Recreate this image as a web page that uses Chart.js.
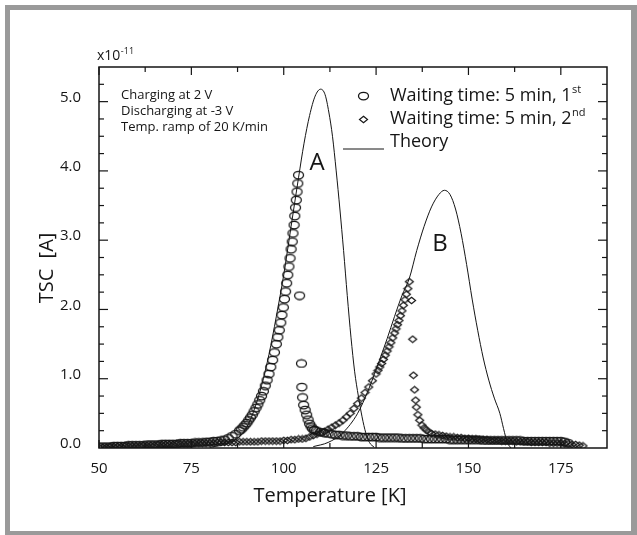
<!DOCTYPE html>
<html>
<head>
<meta charset="utf-8">
<title>TSC</title>
<script src="https://cdn.jsdelivr.net/npm/chart.js@4.4.0/dist/chart.umd.min.js"></script>
<style>
  html, body { margin: 0; padding: 0; background: #fff; }
  #wrap { width: 637px; height: 535px; }
</style>
</head>
<body>
<div id="wrap"><canvas id="tsc" width="637" height="535"></canvas></div>
<script>
// --- data (temperature in K, current in units of 1e-11 A) -------------------

const xTickValues = [50, 75, 100, 125, 150, 175];
const yTickValues = [0, 1, 2, 3, 4, 5];

// waiting time 5 min, 1st run (circles)
const firstTemp = [
  50, 51, 52, 53, 54, 55, 56, 57, 58, 59,
  60, 61, 62, 63, 64, 65, 66, 67, 68, 69,
  70, 71, 72, 73, 74, 75, 76, 77, 78, 79,
  80, 81, 82, 83, 84, 85, 86, 87, 88, 88.5,
  89, 89.5, 90, 90.5, 91, 91.5, 92, 92.5, 93, 93.5,
  94, 94.5, 95, 95.5, 96, 96.5, 97, 97.5, 98, 98.4,
  98.8, 99.2, 99.5, 99.9, 100.2, 100.5, 100.8, 101.1, 101.4, 101.7,
  102, 102.3, 102.5, 102.8, 103, 103.2, 103.4, 103.6, 103.8, 104,
  104.3, 104.8, 104.9, 105.1, 105.4, 105.8, 106.2, 106.6, 107, 107.4,
  107.8, 108.3, 108.8, 110, 111, 112, 113, 114, 115, 116,
  117, 118, 119, 120, 121, 122, 123, 124, 125, 126,
  127, 128, 129, 130, 131, 132, 133, 134, 135, 136,
  137, 138, 139, 140, 141, 142, 143, 144, 145, 146,
  147, 148, 149, 150, 151, 152, 153, 154, 155, 156,
  157, 158, 159, 160, 161, 162, 163, 164, 165, 166,
  167, 168, 169, 170, 171, 172, 173, 174, 175, 176,
  177
];
const firstTsc = [
  0.02, 0.02, 0.02, 0.02, 0.03, 0.03, 0.03, 0.03, 0.04, 0.04,
  0.04, 0.04, 0.04, 0.05, 0.05, 0.05, 0.05, 0.06, 0.06, 0.06,
  0.06, 0.06, 0.07, 0.07, 0.07, 0.07, 0.08, 0.08, 0.08, 0.09,
  0.09, 0.10, 0.10, 0.11, 0.12, 0.14, 0.17, 0.20, 0.25, 0.27,
  0.30, 0.33, 0.36, 0.40, 0.44, 0.48, 0.53, 0.58, 0.63, 0.69,
  0.75, 0.82, 0.90, 0.98, 1.07, 1.17, 1.27, 1.38, 1.50, 1.60,
  1.70, 1.81, 1.92, 2.03, 2.15, 2.26, 2.38, 2.50, 2.62, 2.74,
  2.87, 2.98, 3.10, 3.22, 3.35, 3.47, 3.58, 3.70, 3.82, 3.94,
  2.20, 1.22, 0.88, 0.73, 0.62, 0.55, 0.48, 0.41, 0.35, 0.31,
  0.28, 0.26, 0.25, 0.23, 0.22, 0.21, 0.20, 0.19, 0.19, 0.18,
  0.18, 0.17, 0.17, 0.17, 0.16, 0.16, 0.16, 0.16, 0.16, 0.15,
  0.15, 0.15, 0.15, 0.15, 0.15, 0.14, 0.14, 0.14, 0.14, 0.14,
  0.14, 0.13, 0.13, 0.13, 0.13, 0.13, 0.13, 0.13, 0.12, 0.12,
  0.12, 0.12, 0.12, 0.12, 0.12, 0.12, 0.12, 0.11, 0.11, 0.11,
  0.11, 0.11, 0.11, 0.11, 0.11, 0.11, 0.11, 0.11, 0.10, 0.10,
  0.10, 0.10, 0.10, 0.10, 0.10, 0.10, 0.10, 0.10, 0.10, 0.09,
  0.07
];

// waiting time 5 min, 2nd run (diamonds)
const secondTemp = [
  50, 51, 52, 53, 54, 55, 56, 57, 58, 59,
  60, 61, 62, 63, 64, 65, 66, 67, 68, 69,
  70, 71, 72, 73, 74, 75, 76, 77, 78, 79,
  80, 81, 82, 83, 84, 85, 86, 87, 88, 89,
  90, 91, 92, 93, 94, 95, 96, 97, 98, 99,
  100, 101, 102, 103, 104, 105, 106, 107, 108, 109,
  110, 111, 112, 113, 114, 115, 116, 117, 118, 119,
  120, 121, 122, 123, 124, 125, 125.5, 126, 126.5, 127,
  127.5, 128, 128.5, 129, 129.5, 130, 130.4, 130.8, 131.2, 131.6,
  132, 132.4, 132.8, 133.2, 133.6, 134, 134.6, 134.9, 135.1, 135.4,
  135.7, 135.9, 136.3, 136.8, 137.4, 138, 138.6, 139.3, 140, 141,
  142, 143, 144, 145, 146, 147, 148, 149, 150, 151,
  152, 153, 154, 155, 156, 157, 158, 159, 160, 161,
  162, 163, 164, 165, 166, 167, 168, 169, 170, 171,
  172, 173, 174, 175, 176, 177, 178, 179, 180, 181
];
const secondTsc = [
  0.01, 0.01, 0.01, 0.02, 0.02, 0.02, 0.02, 0.03, 0.03, 0.03,
  0.03, 0.03, 0.04, 0.04, 0.04, 0.04, 0.05, 0.05, 0.05, 0.05,
  0.05, 0.06, 0.06, 0.06, 0.06, 0.06, 0.07, 0.07, 0.07, 0.07,
  0.07, 0.07, 0.08, 0.08, 0.08, 0.08, 0.08, 0.08, 0.09, 0.09,
  0.09, 0.09, 0.09, 0.09, 0.10, 0.10, 0.10, 0.10, 0.10, 0.10,
  0.11, 0.11, 0.12, 0.12, 0.13, 0.13, 0.14, 0.16, 0.18, 0.20,
  0.22, 0.24, 0.27, 0.30, 0.33, 0.36, 0.40, 0.45, 0.50, 0.57,
  0.64, 0.72, 0.80, 0.88, 0.97, 1.07, 1.12, 1.17, 1.22, 1.28,
  1.34, 1.40, 1.46, 1.52, 1.59, 1.66, 1.72, 1.78, 1.84, 1.91,
  1.98, 2.06, 2.14, 2.22, 2.30, 2.40, 2.13, 1.57, 1.05, 0.84,
  0.69, 0.59, 0.48, 0.40, 0.33, 0.29, 0.26, 0.23, 0.21, 0.20,
  0.19, 0.18, 0.17, 0.16, 0.16, 0.15, 0.15, 0.14, 0.14, 0.13,
  0.13, 0.12, 0.12, 0.12, 0.11, 0.11, 0.11, 0.10, 0.10, 0.10,
  0.10, 0.09, 0.09, 0.09, 0.09, 0.08, 0.08, 0.08, 0.08, 0.08,
  0.07, 0.07, 0.07, 0.07, 0.06, 0.06, 0.05, 0.05, 0.04, 0.03
];

// theory, peak A
const theoryATemp = [
  80, 84, 87, 90, 92, 94, 96, 98, 100, 102,
  104, 105.5, 107, 108.5, 110, 111.2, 112.2, 113.2, 114.2, 115.2,
  116.2, 117.2, 118.2, 119.2, 120.2, 121.2, 122.2, 123.2, 124.5
];
const theoryATsc = [
  0.01, 0.05, 0.12, 0.30, 0.55, 0.90, 1.35, 1.90, 2.50, 3.20,
  3.90, 4.40, 4.80, 5.08, 5.18, 5.10, 4.85, 4.50, 4.00, 3.45,
  2.85, 2.20, 1.60, 1.10, 0.75, 0.45, 0.22, 0.08, 0.01
];

// theory, peak B
const theoryBTemp = [
  108, 112, 116, 120, 123, 126, 128, 130, 132, 134,
  136, 138, 140, 142, 143.5, 145, 146.5, 148, 149.5, 151,
  152.5, 154, 155.5, 157, 158.5, 159.5, 160.5, 161.5
];
const theoryBTsc = [
  0.02, 0.08, 0.22, 0.50, 0.85, 1.28, 1.58, 1.90, 2.20, 2.45,
  2.85, 3.20, 3.48, 3.66, 3.72, 3.66, 3.45, 3.10, 2.65, 2.15,
  1.70, 1.30, 0.98, 0.72, 0.50, 0.28, 0.08, 0.00
];

// --- helpers ----------------------------------------------------------------

const FONT = '"Open Sans", "Noto Sans", sans-serif';
const INK = '#151515';

function pairs(xs, ys) {
  return xs.map((x, i) => ({ x: x, y: ys[i] }));
}

function font(size) { return size + 'px ' + FONT; }

// hollow marker images: the scanned plot has slightly squashed symbols
function ellipseMarker(w, h, lw) {
  const c = document.createElement('canvas');
  c.width = w + 3; c.height = h + 3;
  const g = c.getContext('2d');
  g.strokeStyle = INK; g.lineWidth = lw;
  g.beginPath();
  g.ellipse(c.width / 2, c.height / 2, w / 2, h / 2, 0, 0, Math.PI * 2);
  g.stroke();
  return c;
}

function diamondMarker(w, h, lw) {
  const c = document.createElement('canvas');
  c.width = w + 3; c.height = h + 3;
  const g = c.getContext('2d');
  const cx = c.width / 2, cy = c.height / 2;
  g.strokeStyle = INK; g.lineWidth = lw;
  g.beginPath();
  g.moveTo(cx, cy - h / 2);
  g.lineTo(cx + w / 2, cy);
  g.lineTo(cx, cy + h / 2);
  g.lineTo(cx - w / 2, cy);
  g.closePath();
  g.stroke();
  return c;
}

const circleImg = ellipseMarker(10, 7.5, 1.25);
const diamondImg = diamondMarker(8, 6.5, 1.2);

// text followed by a raised small suffix (1st, 2nd, 10^-11)
function supText(ctx, x, y, main, sup, size, supSize) {
  ctx.font = font(size);
  ctx.fillText(main, x, y);
  const w = ctx.measureText(main).width;
  ctx.font = font(supSize);
  ctx.fillText(sup, x + w + 0.5, y - size * 0.36);
}

function line(ctx, x1, y1, x2, y2) {
  ctx.beginPath();
  ctx.moveTo(x1, y1);
  ctx.lineTo(x2, y2);
  ctx.stroke();
}

function stamp(ctx, img, x, y) {
  ctx.drawImage(img, Math.round(x - img.width / 2), Math.round(y - img.height / 2));
}

// --- plugin: page frame, plot box, inward ticks, labels, legend -------------

const decorations = {
  id: 'decorations',
  beforeDraw(chart) {
    const ctx = chart.ctx;
    ctx.save();
    ctx.fillStyle = '#fff';
    ctx.fillRect(0, 0, chart.width, chart.height);
    ctx.fillStyle = '#9a9a9a';
    ctx.fillRect(5, 5, 632, 5);
    ctx.fillRect(5, 5, 5, 530);
    ctx.fillRect(5, 531, 632, 4);
    ctx.fillRect(631, 5, 6, 530);
    ctx.restore();
  },
  afterDraw(chart) {
    const ctx = chart.ctx;
    const a = chart.chartArea;
    const xs = chart.scales.x;
    const ys = chart.scales.y;

    ctx.save();
    ctx.strokeStyle = INK;
    ctx.lineWidth = 1.5;
    ctx.strokeRect(a.left, a.top, a.right - a.left, a.bottom - a.top);

    // inward ticks on all four sides
    ctx.lineWidth = 1.2;
    for (let v = 50; v < 187.5; v += 12.5) {
      const px = xs.getPixelForValue(v);
      const len = (v - 50) % 25 === 0 ? 8 : 5;
      line(ctx, px, a.bottom, px, a.bottom - len);
      line(ctx, px, a.top, px, a.top + len);
    }
    for (let v = 0.25; v < 5.5; v += 0.25) {
      const py = ys.getPixelForValue(v);
      const len = Math.abs(v - Math.round(v)) < 1e-6 ? 9 : 5;
      line(ctx, a.left, py, a.left + len, py);
      line(ctx, a.right, py, a.right - len, py);
    }

    ctx.fillStyle = INK;
    ctx.textBaseline = 'middle';

    // exponent above the y axis
    ctx.textAlign = 'left';
    supText(ctx, 97, 56, 'x10', '-11', 14, 9);

    // axis titles
    ctx.textAlign = 'center';
    ctx.font = font(20);
    ctx.fillText('Temperature [K]', 330, 496);
    ctx.save();
    ctx.translate(47, 268);
    ctx.rotate(-Math.PI / 2);
    ctx.fillText('TSC  [A]', 0, 0);
    ctx.restore();

    // measurement conditions
    ctx.textAlign = 'left';
    ctx.font = font(13);
    ctx.fillText('Charging at 2 V', 121, 95);
    ctx.fillText('Discharging at -3 V', 121, 111);
    ctx.fillText('Temp. ramp of 20 K/min', 121, 127);

    // peak names
    ctx.textAlign = 'center';
    ctx.font = font(24);
    ctx.fillText('A', 317, 163);
    ctx.fillText('B', 440, 244);

    // legend
    const tx = 390;
    stamp(ctx, circleImg, 363, 96);
    stamp(ctx, diamondImg, 363, 119);
    ctx.lineWidth = 1;
    line(ctx, 343, 149, 384, 149);

    ctx.textAlign = 'left';
    supText(ctx, tx, 96, 'Waiting time: 5 min, 1', 'st', 18, 11);
    supText(ctx, tx, 119, 'Waiting time: 5 min, 2', 'nd', 18, 11);
    ctx.font = font(18);
    ctx.fillText('Theory', tx, 142);
    ctx.restore();
  }
};

// --- chart ------------------------------------------------------------------

new Chart(document.getElementById('tsc'), {
  type: 'scatter',
  data: {
    datasets: [
      {
        label: 'Theory A',
        data: pairs(theoryATemp, theoryATsc),
        showLine: true, borderColor: INK, borderWidth: 1,
        pointRadius: 0, cubicInterpolationMode: 'monotone'
      },
      {
        label: 'Theory B',
        data: pairs(theoryBTemp, theoryBTsc),
        showLine: true, borderColor: INK, borderWidth: 1,
        pointRadius: 0, cubicInterpolationMode: 'monotone'
      },
      {
        label: 'Waiting time: 5 min, 1st',
        data: pairs(firstTemp, firstTsc),
        pointStyle: circleImg, pointRadius: 5
      },
      {
        label: 'Waiting time: 5 min, 2nd',
        data: pairs(secondTemp, secondTsc),
        pointStyle: diamondImg, pointRadius: 4
      }
    ]
  },
  options: {
    responsive: false,
    devicePixelRatio: 1,
    animation: false,
    layout: { padding: { top: 67, right: 30, bottom: 10, left: 10 } },
    plugins: { legend: { display: false }, tooltip: { enabled: false } },
    scales: {
      x: {
        type: 'linear', min: 50, max: 187.5,
        grid: { display: false },
        border: { display: false },
        ticks: {
          color: INK, font: { family: FONT, size: 15 }, padding: 4,
          maxRotation: 0, autoSkip: false
        },
        afterBuildTicks: s => { s.ticks = xTickValues.map(v => ({ value: v })); },
        afterFit: s => { s.height = 77; }
      },
      y: {
        type: 'linear', min: 0, max: 5.5,
        grid: { display: false },
        border: { display: false },
        ticks: {
          color: INK, font: { family: FONT, size: 15 }, padding: 10,
          labelOffset: -4, autoSkip: false,
          callback: v => v.toFixed(1)
        },
        afterBuildTicks: s => { s.ticks = yTickValues.map(v => ({ value: v })); },
        afterFit: s => { s.width = 89; }
      }
    }
  },
  plugins: [decorations]
});
</script>
</body>
</html>
